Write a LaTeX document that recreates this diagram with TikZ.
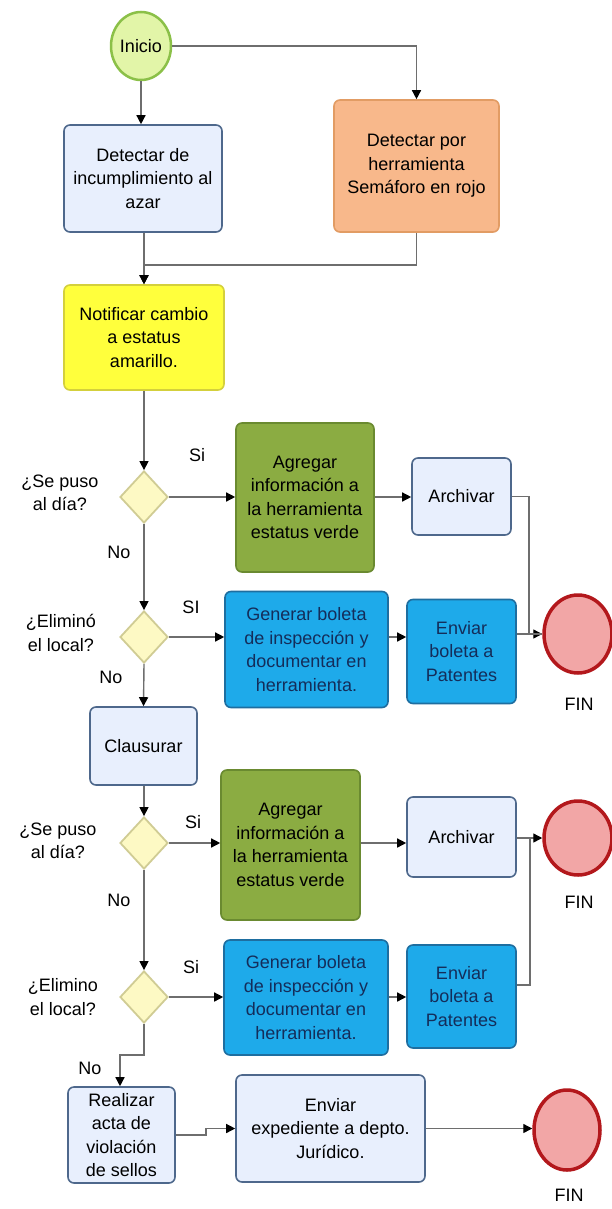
\documentclass[tikz,border=0pt]{standalone}
\usepackage{fontspec}
\setmainfont{Liberation Sans}
\usetikzlibrary{shapes.geometric,arrows.meta}

\definecolor{startFill}{RGB}{226,245,168}
\definecolor{startDraw}{RGB}{139,192,72}
\definecolor{taskFill}{RGB}{232,239,253}
\definecolor{taskDraw}{RGB}{78,104,140}
\definecolor{orangeFill}{RGB}{248,184,139}
\definecolor{orangeDraw}{RGB}{226,156,100}
\definecolor{yellowFill}{RGB}{255,255,60}
\definecolor{yellowDraw}{RGB}{212,208,60}
\definecolor{askFill}{RGB}{253,249,196}
\definecolor{askDraw}{RGB}{208,204,148}
\definecolor{greenFill}{RGB}{139,172,66}
\definecolor{greenDraw}{RGB}{106,138,48}
\definecolor{cyanFill}{RGB}{30,170,234}
\definecolor{cyanDraw}{RGB}{30,110,160}
\definecolor{cyanText}{RGB}{20,45,90}
\definecolor{endFill}{RGB}{242,166,166}
\definecolor{endDraw}{RGB}{179,24,28}
\definecolor{flowGray}{RGB}{110,110,110}

\begin{document}
\begin{tikzpicture}[x=1pt, y=-1pt,
  every node/.style={font=\fontsize{18}{23.5}\selectfont, align=center, inner sep=1pt},
  task/.style={rectangle, rounded corners=6pt, draw=taskDraw, fill=taskFill, line width=1.6pt},
  ask/.style={diamond, draw=askDraw, fill=askFill, line width=1.8pt, minimum width=48, minimum height=52, inner sep=0pt},
  finish/.style={ellipse, draw=endDraw, fill=endFill, line width=3.5pt, inner sep=0pt},
  flow/.style={draw=flowGray, line width=1.4pt, -{Triangle[length=9pt, width=9pt, black]}},
  link/.style={draw=flowGray, line width=1.4pt}]
\useasboundingbox[fill=white] (0,0) rectangle (611,1209);

\node[ellipse, draw=startDraw, fill=startFill, line width=2.5pt, minimum width=60, minimum height=68, inner sep=0pt](inicioCircle) at (141,46){Inicio};
\node[task, minimum width=158, minimum height=107](detectarBox) at (143,178.5){Detectar de\\incumplimiento al\\azar};
\node[task, draw=orangeDraw, fill=orangeFill, minimum width=165, minimum height=132](semaforoBox) at (416.5,166){Detectar por\\herramienta\\Semáforo en rojo};
\node[task, draw=yellowDraw, fill=yellowFill, minimum width=160, minimum height=105](notificarBox) at (144,337.5){Notificar cambio\\a estatus\\amarillo.};

\node[ask](dia1Diamond) at (144,497){};
\node(dia1Label) at (60,493){¿Se puso\\al día?};
\node(si1Label) at (197,455){Si};
\node(no1Label) at (119,552){No};
\node[task, draw=greenDraw, fill=greenFill, minimum width=138, minimum height=149](agregar1Box) at (305,497.5){Agregar\\información a\\la herramienta\\estatus verde};
\node[task, minimum width=99, minimum height=77](archivar1Box) at (461.5,496.5){Archivar};

\node[ask](elimino1Diamond) at (144,637){};
\node(elimino1Label) at (61,633){¿Eliminó\\el local?};
\node(si2Label) at (191,607){SI};
\node(no2Label) at (111,677){No};
\node[task, draw=cyanDraw, fill=cyanFill, text=cyanText, minimum width=163, minimum height=116](generar1Box) at (306.5,649.5){Generar boleta\\de inspección y\\documentar en\\herramienta.};
\node[task, draw=cyanDraw, fill=cyanFill, text=cyanText, minimum width=109, minimum height=104](enviar1Box) at (461.5,651.5){Enviar\\boleta a\\Patentes};
\node[finish, minimum width=68, minimum height=78](fin1Circle) at (578,634){};
\node(fin1Label) at (579,704){FIN};

\node[task, minimum width=107, minimum height=78](clausurarBox) at (143.5,746){Clausurar};

\node[ask](dia2Diamond) at (144,843){};
\node(dia2Label) at (58,841){¿Se puso\\al día?};
\node(si3Label) at (193,822){Si};
\node(no3Label) at (119,900){No};
\node[task, draw=greenDraw, fill=greenFill, minimum width=139, minimum height=150](agregar2Box) at (290.5,845){Agregar\\información a\\la herramienta\\estatus verde};
\node[task, minimum width=109, minimum height=80](archivar2Box) at (461.5,837){Archivar};
\node[finish, minimum width=68, minimum height=74](fin2Circle) at (578,838){};
\node(fin2Label) at (579,902){FIN};

\node[ask](elimino2Diamond) at (144,997){};
\node(elimino2Label) at (63,997){¿Elimino\\el local?};
\node(si4Label) at (191,967){Si};
\node(no4Label) at (90,1068){No};
\node[task, draw=cyanDraw, fill=cyanFill, text=cyanText, minimum width=164, minimum height=115](generar2Box) at (306,997.5){Generar boleta\\de inspección y\\documentar en\\herramienta.};
\node[task, draw=cyanDraw, fill=cyanFill, text=cyanText, minimum width=109, minimum height=103](enviar2Box) at (461.5,996.5){Enviar\\boleta a\\Patentes};

\node[task, minimum width=107, minimum height=96](realizarBox) at (121.5,1135){Realizar\\acta de\\violación\\de sellos};
\node[task, minimum width=189, minimum height=107](expedienteBox) at (330.5,1128.5){Enviar\\expediente a depto.\\Jurídico.};
\node[finish, minimum width=66, minimum height=80](fin3Circle) at (567,1130){};
\node(fin3Label) at (569,1195){FIN};

\coordinate(mergePoint) at (144,265);
\coordinate(fin2Join) at (530,838);

\draw[flow] (inicioCircle.south) -- (inicioCircle.south |- detectarBox.north);
\draw[flow] (inicioCircle.east) -| (semaforoBox.north);
\draw[flow] (detectarBox.south -| mergePoint) -- (notificarBox.north);
\draw[flow] (semaforoBox.south) |- (mergePoint) -- (notificarBox.north);
\draw[flow] (notificarBox.south) -- (dia1Diamond.north);

\draw[flow] (dia1Diamond.east) -- (dia1Diamond.east -| agregar1Box.west);
\draw[flow] (agregar1Box.east |- dia1Diamond) -- (archivar1Box.west |- dia1Diamond);
\draw[flow] (archivar1Box.east) -- ++(17,0) |- (fin1Circle.west);
\draw[flow] (dia1Diamond.south) -- (elimino1Diamond.north);

\draw[flow] (elimino1Diamond.east) -- (elimino1Diamond.east -| generar1Box.west);
\draw[flow] (generar1Box.east |- elimino1Diamond) -- (enviar1Box.west |- elimino1Diamond);
\draw[link] (enviar1Box.east |- fin1Circle) -- (fin1Circle.west);
\draw[flow] (elimino1Diamond.south) -- (clausurarBox.north);

\draw[flow] (clausurarBox.south -| dia2Diamond) -- (dia2Diamond.north);
\draw[flow] (dia2Diamond.east) -- (dia2Diamond.east -| agregar2Box.west);
\draw[flow] (agregar2Box.east |- dia2Diamond) -- (archivar2Box.west |- dia2Diamond);
\draw[flow] (archivar2Box.east |- fin2Circle) -- (fin2Circle.west);
\draw[link] ([yshift=11.5pt]enviar2Box.east) -| (fin2Join);
\draw[flow] (dia2Diamond.south) -- (elimino2Diamond.north);

\draw[flow] (elimino2Diamond.east) -- (elimino2Diamond.east -| generar2Box.west);
\draw[flow] (generar2Box.east |- elimino2Diamond) -- (enviar2Box.west |- elimino2Diamond);
\draw[flow] (elimino2Diamond.south) -- ++(0,31) -| ([xshift=-1.5pt]realizarBox.north);

\draw[flow] (realizarBox.east) -- ++(30,0) |- (expedienteBox.west);
\draw[flow] (expedienteBox.east) -- (expedienteBox.east -| fin3Circle.west);
\end{tikzpicture}
\end{document}
